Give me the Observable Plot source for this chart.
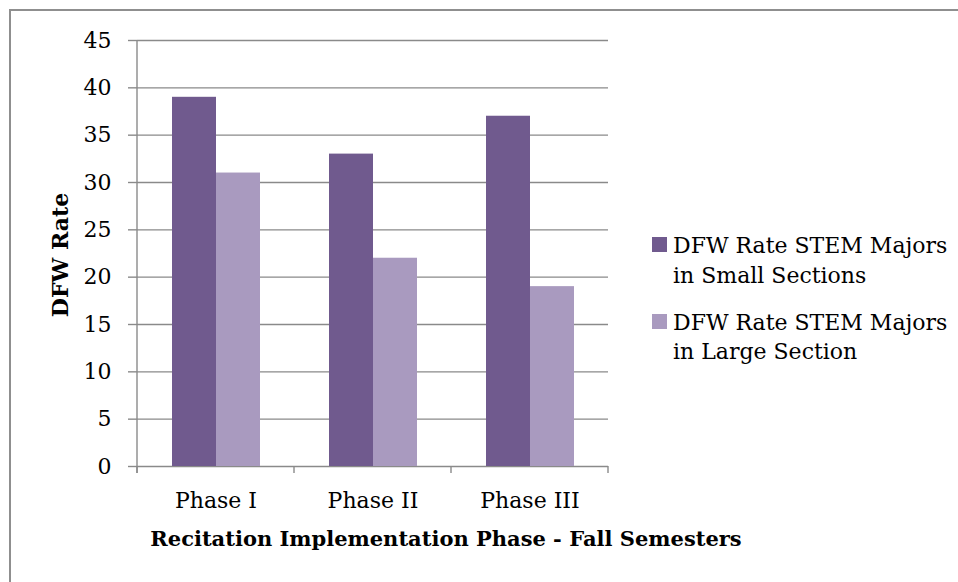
<!DOCTYPE html>
<html>
<head>
<meta charset="utf-8">
<script src="https://cdn.jsdelivr.net/npm/d3@7"></script>
<script src="https://cdn.jsdelivr.net/npm/@observablehq/plot@0.6"></script>
<style>
  html, body { margin: 0; padding: 0; background: #fff; }
  #wrap { position: relative; width: 958px; height: 582px; overflow: hidden; font-family: "DejaVu Serif", serif; color: #000; }
  #border { position: absolute; left: 9px; top: 9px; width: 1200px; height: 800px; border-left: 2px solid #8f8f8f; border-top: 2px solid #8f8f8f; }
  #chart { position: absolute; left: 0; top: 0; }
  #ytitle { position: absolute; left: 60px; top: 255px; transform: translate(-50%, -50%) rotate(-90deg); font-weight: bold; font-size: 22px; white-space: nowrap; }
  #xtitle { position: absolute; left: 446px; top: 526px; transform: translateX(-50%); font-weight: bold; font-size: 21px; white-space: nowrap; }
  #legend { position: absolute; left: 652px; top: 231px; font-size: 22px; line-height: 29.5px; }
  .item { position: relative; padding-left: 21px; margin-bottom: 17.5px; white-space: nowrap; }
  .sw { position: absolute; left: 0; top: 6px; width: 15px; height: 15px; }
</style>
</head>
<body>
<div id="wrap">
  <div id="border"></div>
  <div id="chart"></div>
  <div id="ytitle"></div>
  <div id="xtitle"></div>
  <div id="legend"></div>
</div>
<script>
const phases = ["Phase I", "Phase II", "Phase III"];
const seriesNames = ["DFW Rate STEM Majors in Small Sections", "DFW Rate STEM Majors in Large Section"];
const legendLines = [["DFW Rate STEM Majors", "in Small Sections"], ["DFW Rate STEM Majors", "in Large Section"]];
const smallSections = [39, 33, 37];
const largeSection = [31, 22, 19];
const yTicks = [0, 5, 10, 15, 20, 25, 30, 35, 40, 45];
const colors = ["#705A8E", "#A99ABF"];
const yTitle = "DFW Rate";
const xTitle = "Recitation Implementation Phase - Fall Semesters";

const data = phases.flatMap((p, i) => [
  {phase: p, series: seriesNames[0], value: smallSections[i]},
  {phase: p, series: seriesNames[1], value: largeSection[i]}
]);

const plot = Plot.plot({
  width: 958,
  height: 582,
  marginLeft: 136,
  marginRight: 349,
  marginTop: 40,
  marginBottom: 116,
  style: {fontFamily: "DejaVu Serif", fontSize: "22px", color: "#000", background: "transparent", overflow: "visible"},
  fx: {domain: phases, paddingInner: 0, paddingOuter: 0, label: null},
  x: {domain: seriesNames, paddingInner: 0, paddingOuter: 0.77, axis: null},
  y: {domain: [0, 45], label: null},
  color: {domain: seriesNames, range: colors},
  marks: [
    Plot.gridY(yTicks, {stroke: "#8a8a8a", strokeOpacity: 1, strokeWidth: 1.4}),
    Plot.barY(data, {fx: "phase", x: "series", y: "value", fill: "series"}),
    Plot.axisY(yTicks, {tickSize: 9, tickPadding: 17, stroke: "#8a8a8a", strokeWidth: 1.4, label: null, fill: "#000", fontSize: 22}),
    Plot.axisFx({anchor: "bottom", tickSize: 0, tickPadding: 26, label: null, fill: "#000", fontSize: 22})
  ]
});

document.getElementById("chart").appendChild(plot);

// Category boundary ticks and vertical axis line, placed from the plot's scales
const fx = plot.scale("fx");
const y = plot.scale("y");
const y0 = y.apply(0);
const yTop = y.apply(45);
const edges = phases.map(p => fx.apply(p)).concat([fx.apply(phases[phases.length - 1]) + fx.bandwidth]);
const svg = d3.select(plot);
const g = svg.append("g").attr("stroke", "#8a8a8a").attr("stroke-width", 1.4);
g.selectAll("line.t").data(edges).join("line")
  .attr("class", "t")
  .attr("x1", d => d).attr("x2", d => d)
  .attr("y1", y0).attr("y2", y0 + 7);
g.append("line")
  .attr("x1", edges[0]).attr("x2", edges[0])
  .attr("y1", yTop).attr("y2", y0 + 7);

document.getElementById("ytitle").textContent = yTitle;
document.getElementById("xtitle").textContent = xTitle;

const legend = document.getElementById("legend");
legendLines.forEach((lines, i) => {
  const item = document.createElement("div");
  item.className = "item";
  const sw = document.createElement("div");
  sw.className = "sw";
  sw.style.background = colors[i];
  item.appendChild(sw);
  lines.forEach((t, j) => {
    if (j) item.appendChild(document.createElement("br"));
    item.appendChild(document.createTextNode(t));
  });
  legend.appendChild(item);
});
</script>
</body>
</html>
